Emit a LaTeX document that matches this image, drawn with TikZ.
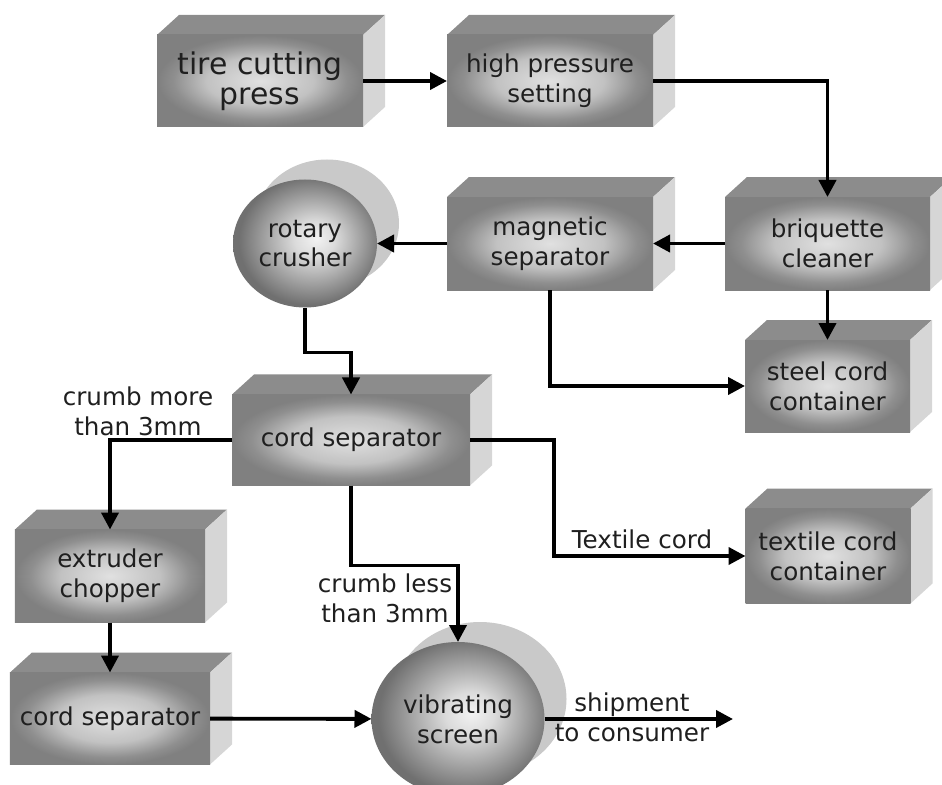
\documentclass[tikz,border=0pt]{standalone}
\usepackage{fontspec}
\setmainfont{DejaVu Sans}
\usepackage{tikz}
\usetikzlibrary{positioning,arrows.meta,shapes.geometric,calc,backgrounds}

\pgfdeclareradialshading{faceglow}{\pgfpoint{0bp}{0bp}}{color(0bp)=(black!12); color(13bp)=(black!24); color(21bp)=(black!44); color(25bp)=(black!50); color(50bp)=(black!50)}
\pgfdeclareradialshading{discglow}{\pgfpoint{4bp}{2bp}}{color(0bp)=(black!5); color(7bp)=(black!14); color(25bp)=(black!56); color(50bp)=(black!56)}

\begin{document}
\begin{tikzpicture}[x=0.2mm, y=-0.2mm, font=\fontsize{14}{17}\selectfont, text=black!88,
  face/.style={shade, shading=faceglow, align=center, inner sep=0pt, outer sep=0pt, minimum width=41.2mm, minimum height=18.4mm},
  small/.style={minimum width=33mm},
  disc/.style={ellipse, shade, shading=discglow, align=center, inner sep=0pt, outer sep=0pt},
  topface/.style={fill=black!45},
  sideface/.style={fill=black!16},
  backdisc/.style={fill=black!21},
  lbl/.style={align=center, inner sep=0pt},
  arr/.style={-{Triangle[length=3.4mm, width=3.4mm]}, line width=2.2pt}]
\useasboundingbox (0,0) rectangle (942,785);
\node[face, font=\fontsize{17}{17}\selectfont] (press) at (260,81) {tire cutting\\press};
\node[face, right=16.8mm of press] (hps) {high pressure\\setting};
\node[face, below=14mm of hps, minimum height=18.6mm] (mag) {magnetic\\separator};
\node[face, right=14.4mm of mag, minimum width=41mm, minimum height=18.6mm] (brq) {briquette\\cleaner};
\node[face, small, below=10mm of brq] (steel) {steel cord\\container};
\node[disc, left=14mm of mag, minimum width=28.8mm, minimum height=25.6mm] (crusher) {rotary\\crusher};
\node[face, minimum width=47.6mm, minimum height=18.2mm] (cordsep) at (351,440) {cord separator};
\node[face, small, minimum height=19mm] (textile) at (828,556) {textile cord\\container};
\node[face, minimum width=38mm, minimum height=18.6mm] (extruder) at (110,576) {extruder\\chopper};
\node[face, minimum width=40mm, below=10mm of extruder] (cordsepb) {cord separator};
\node[disc, minimum width=34.6mm, minimum height=30.8mm] (screen) at (458,719) {vibrating\\screen};
\node[lbl] (more) at (138,411) {crumb more\\than 3mm};
\node[lbl] (less) at (385,598) {crumb less\\than 3mm};
\node[lbl] (textilelbl) at (642,539) {Textile cord};
\node[lbl] (ship) at (632,717) {shipment\\to consumer};
\coordinate (shipend) at (733,719);
% depth of the boxes and the discs
\begin{scope}[on background layer]
\foreach \n in {press,hps,mag,brq,steel,cordsep,textile,extruder,cordsepb}{
  \fill[topface] (\n.north west) -- ++(22,-20) -- ($(\n.north east)+(22,-20)$) -- (\n.north east) -- cycle;
  \fill[sideface] (\n.north east) -- ++(22,-20) -- ($(\n.south east)+(22,-20)$) -- (\n.south east) -- cycle;
}
\fill[backdisc] ($(crusher)+(22,-20)$) ellipse [x radius=14.4mm, y radius=12.8mm];
\fill[backdisc] ($(screen)+(22,-20)$) ellipse [x radius=17.3mm, y radius=15.4mm];
\end{scope}
\draw[arr] (press) -- (hps); \draw[arr] (hps.east) -| (brq.north); \draw[arr] (brq) -- (mag);
\draw[arr] (mag) -- (crusher); \draw[arr] (brq) -- (steel); \draw[arr] (mag.south) |- (steel.west);
\draw[arr] (crusher.south) -- ++(0,45) -| (cordsep.north);
\draw[arr] (cordsep.west) -| (extruder.north); \draw[arr] (extruder) -- (cordsepb);
\draw[arr] (cordsepb) -- (screen); \draw[arr] (cordsep.south) -- ++(0,80) -| (screen.north);
\draw[arr] (cordsep.east) -- ++(84,0) |- (textile.west); \draw[arr] (screen) -- (shipend);
\end{tikzpicture}
\end{document}
